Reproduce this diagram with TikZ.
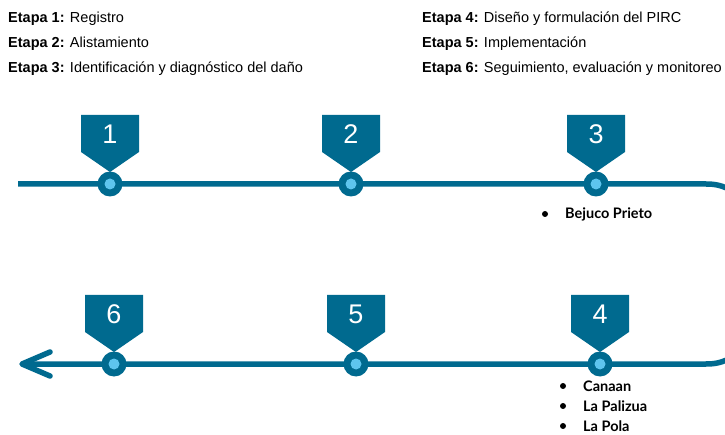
\documentclass[tikz,border=0pt]{standalone}
\usepackage{fontspec}
\setmainfont{Liberation Sans}
\newfontfamily\labelfont{Lato}
\definecolor{teal}{RGB}{0,106,143}
\definecolor{lightdot}{RGB}{94,197,238}
\begin{document}
\begin{tikzpicture}[x=1pt,y=-1pt,
  stagetext/.style={anchor=west,inner sep=0pt,font=\fontsize{14.5}{16}\selectfont},
  placetext/.style={anchor=west,inner sep=0pt,font=\labelfont\bfseries\fontsize{14.5}{16}\selectfont},
  bulletdot/.style={circle,fill=black,inner sep=0pt,minimum size=6pt},
  track/.style={draw=teal,line width=5.5pt},
  flag/.style={fill=teal},
  flagnum/.style={text=white,font=\fontsize{27}{29}\selectfont,inner sep=0pt},
  outerdot/.style={circle,fill=teal,inner sep=0pt,minimum width=25pt,minimum height=23pt},
  innerdot/.style={circle,fill=lightdot,inner sep=0pt,minimum size=11pt}]
\useasboundingbox (0,0) rectangle (725,435);

% stage legend
\node[stagetext] (e1) at (8,19) {\textbf{Etapa 1:} Registro};
\node[stagetext] (e2) at (8,44) {\textbf{Etapa 2:} Alistamiento};
\node[stagetext] (e3) at (8,69) {\textbf{Etapa 3:} Identificación y diagnóstico del daño};
\node[stagetext] (e4) at (422,19) {\textbf{Etapa 4:} Diseño y formulación del PIRC};
\node[stagetext] (e5) at (422,44) {\textbf{Etapa 5:} Implementación};
\node[stagetext] (e6) at (422,69) {\textbf{Etapa 6:} Seguimiento, evaluación y monitoreo};

% timeline tracks
\coordinate (ustart) at (18,184);
\coordinate (ubend) at (706,184);
\coordinate (uend) at (733,191);
\coordinate (lstart) at (22,364);
\coordinate (lbend) at (706,364);
\coordinate (lend) at (733,357);
\begin{scope}
\clip (0,0) rectangle (725,435);
\draw[track] (ustart) -- (ubend) .. controls (716,184) and (722,185.5) .. (uend);
\draw[track] (lstart) -- (lbend) .. controls (716,364) and (722,362.5) .. (lend);
\end{scope}
% arrow head at the end of the lower track
\coordinate (awing1) at (50,352);
\coordinate (awing2) at (50,376);
\draw[teal,line width=5.5pt,line cap=round,line join=round] (awing1) -- (lstart) -- (awing2);

% stage markers: flag with number above a dot on the track
\foreach \n/\x/\y/\t in {1/110/184/115, 2/351/184/115, 3/596/184/115,
                          6/114/364/295, 5/356/364/295, 4/600/364/295}{
  \fill[flag] (\x-29,\t) -- (\x+29,\t) -- (\x+29,\t+37) -- (\x,\t+57) -- (\x-29,\t+37) -- cycle;
  \node[flagnum] (n\n) at (\x,\t+19) {\n};
  \node[outerdot] (d\n) at (\x,\y) {};
  \node[innerdot] (c\n) at (\x,\y) {};
}

% places under stages 3 and 4
\node[bulletdot] (b1) at (545,214) {};
\node[placetext] (p1) at (565,214) {Bejuco Prieto};
\node[bulletdot] (b2) at (563,386) {};
\node[placetext] (p2) at (583,386) {Canaan};
\node[bulletdot] (b3) at (563,406) {};
\node[placetext] (p3) at (583,406) {La Palizua};
\node[bulletdot] (b4) at (563,426) {};
\node[placetext] (p4) at (583,426) {La Pola};
\end{tikzpicture}
\end{document}
